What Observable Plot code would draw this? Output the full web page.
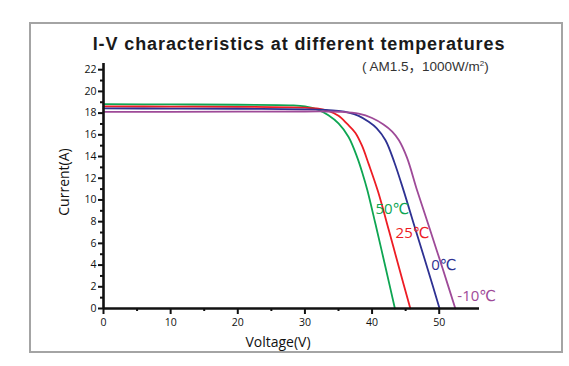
<!DOCTYPE html>
<html>
<head>
<meta charset="utf-8">
<script src="https://cdn.jsdelivr.net/npm/d3@7"></script>
<script src="https://cdn.jsdelivr.net/npm/@observablehq/plot@0.6"></script>
<style>
  html, body { margin: 0; padding: 0; background: #fff; }
  #wrap { position: relative; width: 569px; height: 366px; overflow: hidden; }
  #wrap svg { position: absolute; left: 0; top: 0; }
  .frame { position: absolute; left: 29px; top: 22px; width: 534px; height: 331px; border: 2px solid #a4a4a4; box-sizing: border-box; }
  .title { position: absolute; left: 0; top: 35px; width: 598px; text-align: center; font: bold 18px "Liberation Sans", Arial, sans-serif; letter-spacing: 0.9px; line-height: 18px; color: #1a1a1a; white-space: nowrap; }
  .sub { position: absolute; left: 362px; top: 60px; font-family: "Liberation Sans", "Noto Sans CJK SC", Arial, sans-serif; font-size: 13.5px; line-height: 13px; color: #333; white-space: nowrap; }
  .sub sup { font-size: 8px; vertical-align: 5px; line-height: 0; }
</style>
</head>
<body>
<div id="wrap">
  <div class="frame"></div>
  <div class="title">I-V characteristics at different temperatures</div>
  <div class="sub">( AM1.5，1000W/m<sup>2</sup>)</div>
</div>
<script>
// Voltage (V) / Current (A) readings for each temperature
const V50 = [0, 10, 20, 28, 30, 32, 33.5, 35, 36.5, 37.8, 38.6, 39.3, 40.5, 42, 43.4];
const I50 = [18.82, 18.8, 18.77, 18.72, 18.62, 18.3, 17.8, 17.05, 15.8, 13.9, 12.4, 10.9, 7.8, 3.8, 0];

const V25 = [0, 10, 20, 30, 32, 33.5, 35, 36.3, 37.5, 38.5, 39.5, 40.9, 42.5, 44, 45.7];
const I25 = [18.62, 18.6, 18.58, 18.5, 18.42, 18.2, 17.75, 17.0, 16.2, 15.0, 13.3, 10.75, 7.2, 3.8, 0];

const V0 = [0, 10, 20, 30, 33, 35, 36.5, 38, 39.5, 40.7, 42, 43.3, 44.7, 46.5, 48.3, 50.05];
const I0 = [18.43, 18.42, 18.4, 18.35, 18.3, 18.2, 18.05, 17.75, 17.2, 16.6, 15.5, 13.5, 10.86, 7.2, 3.6, 0];

const Vm10 = [0, 10, 20, 30, 33, 35.5, 38, 40, 41.7, 43, 44, 45.2, 46.7, 48.5, 50.5, 52.4];
const Im10 = [18.12, 18.12, 18.13, 18.15, 18.15, 18.12, 17.95, 17.55, 16.95, 16.3, 15.5, 13.9, 10.9, 7.5, 3.7, 0];

const temps = ["50℃", "25℃", "0℃", "-10℃"];
const colors = ["#0ea552", "#ed1c24", "#2e3192", "#9e4a98"];
const labelV = [40.5, 43.5, 48.8, 52.7];
const labelI = [9.18, 6.94, 3.96, 1.1];

const xTicks = [0, 10, 20, 30, 40, 50];
const xMinor = [5, 15, 25, 35, 45];
const yTicks = [0, 2, 4, 6, 8, 10, 12, 14, 16, 18, 20, 22];
const yMinor = [1, 3, 5, 7, 9, 11, 13, 15, 17, 19, 21];

const seriesV = [V50, V25, V0, Vm10];
const seriesI = [I50, I25, I0, Im10];
const series = temps.map((t, k) => seriesV[k].map((v, j) => ({T: t, V: v, I: seriesI[k][j]})));
const labels = temps.map((t, k) => ({T: t, V: labelV[k], I: labelI[k], c: colors[k]}));

const chart = Plot.plot({
  width: 569,
  height: 366,
  marginLeft: 103,
  marginRight: 90,
  marginTop: 63,
  marginBottom: 58,
  x: {domain: [0, 56]},
  y: {domain: [0, 22.57]},
  style: {fontFamily: "'Open Sans', sans-serif", fontSize: "10.5px", color: "#111", background: "transparent", overflow: "visible"},
  marks: [
    Plot.axisX({ticks: xTicks, tickSize: 6, tickPadding: 4, strokeWidth: 2, label: null}),
    Plot.axisX({ticks: xMinor, tickSize: 3, strokeWidth: 2, tickFormat: () => "", label: null}),
    Plot.axisY({ticks: yTicks, tickSize: 5, tickPadding: 2, strokeWidth: 2, label: null}),
    Plot.axisY({ticks: yMinor, tickSize: 3, strokeWidth: 2, tickFormat: () => "", label: null}),
    ...series.map((s, k) => Plot.line(s, {x: "V", y: "I", stroke: colors[k], strokeWidth: 1.8, curve: "catmull-rom"})),
    Plot.ruleX([0], {stroke: "#111", strokeWidth: 2.6}),
    Plot.ruleY([0], {stroke: "#111", strokeWidth: 2.6}),
    Plot.text(labels, {x: "V", y: "I", text: "T", fill: (d) => d.c, textAnchor: "start", fontSize: 15, fontFamily: "'Open Sans', 'DejaVu Sans', sans-serif"}),
    Plot.text(["Voltage(V)"], {text: (d) => d, frameAnchor: "bottom", textAnchor: "middle", lineAnchor: "middle", dx: -13.5, dy: 34, fontSize: 14, fill: "#111"}),
    Plot.text(["Current(A)"], {text: (d) => d, frameAnchor: "left", textAnchor: "middle", lineAnchor: "middle", rotate: -90, dx: -39, dy: -4, fontSize: 14, fill: "#111", letterSpacing: "1px"})
  ]
});
document.getElementById("wrap").appendChild(chart);
</script>
</body>
</html>
